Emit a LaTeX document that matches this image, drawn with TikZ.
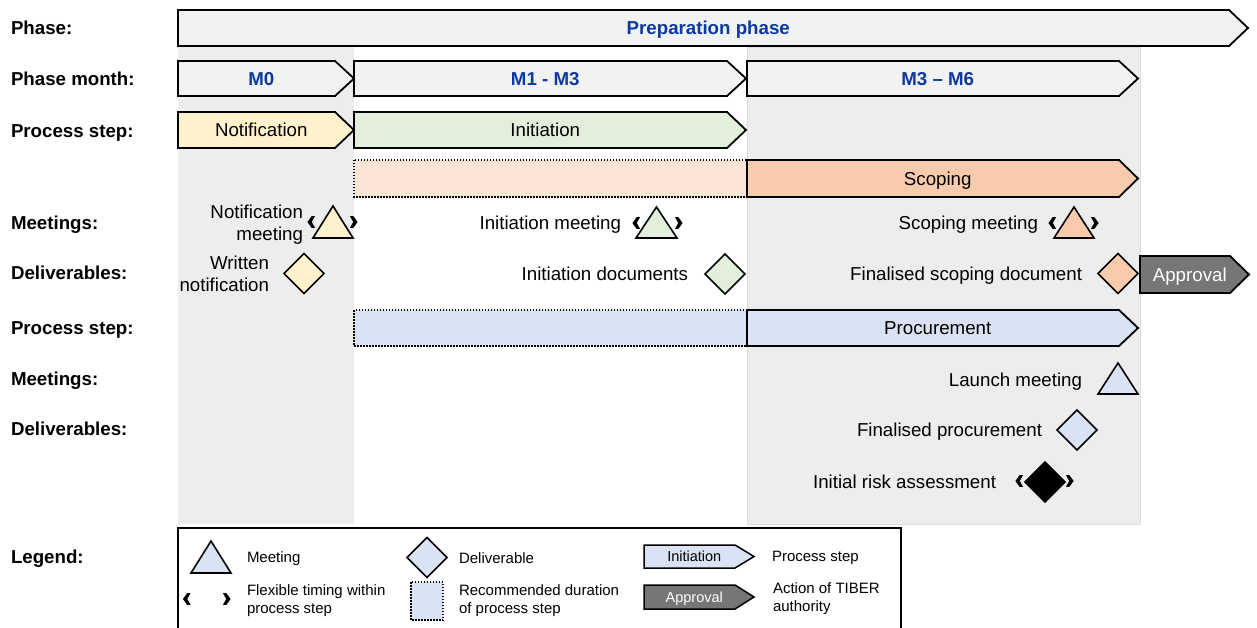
\documentclass[tikz,border=0pt]{standalone}
\usepackage{fontspec}
\setmainfont{Liberation Sans}
\usetikzlibrary{shapes.geometric}
\definecolor{colgray}{HTML}{EDEDED}
\definecolor{coledge}{HTML}{DCDCDC}
\definecolor{barfill}{HTML}{F2F2F2}
\definecolor{yel}{HTML}{FFF2CC}
\definecolor{grn}{HTML}{E2EFDA}
\definecolor{peachlt}{HTML}{FBE5D6}
\definecolor{peach}{HTML}{F8CBAD}
\definecolor{blu}{HTML}{DAE3F3}
\definecolor{apprv}{HTML}{767676}
\definecolor{phasetxt}{HTML}{0B39A0}

\tikzset{
  every node/.style={inner sep=0pt, outer sep=0pt},
  t/.style={font=\fontsize{18.7}{22}\selectfont, text height=13.5pt, text depth=0pt},
  rowlab/.style={t, font=\fontsize{18.7}{22}\selectfont\bfseries, anchor=west},
  phtxt/.style={t, font=\fontsize{18.7}{22}\selectfont\bfseries, text=phasetxt},
  lab/.style={t, anchor=east, align=right},
  apptxt/.style={t, text=white},
  legtxt/.style={font=\fontsize{15}{17.5}\selectfont, text height=10.8pt, text depth=0pt, anchor=west, align=left},
  legarrtxt/.style={font=\fontsize{14.5}{17}\selectfont, text height=10.4pt, text depth=0pt},
  legapptxt/.style={legarrtxt, text=white},
  arrline/.style={draw=black, line width=1.8pt, line join=miter},
  legarrline/.style={draw=black, line width=1.5pt, line join=miter},
  dotbox/.style={draw=black, line width=1.5pt, dash pattern=on 1.5pt off 1.5pt},
  tri/.style={draw=black, line width=1.6pt, line join=miter},
  dia/.style={shape=diamond, draw=black, line width=1.6pt, minimum width=40pt, minimum height=40pt, inner sep=0pt},
  flexmark/.style={fill=black},
}

% #1 path style, #2 name, #3 x left, #4 x tip, #5 y top, #6 y bottom, #7 text style, #8 text
\newcommand{\steparrow}[8][arrline]{%
  \path[#1] (#3,#5) -- ({#4-19},#5) -- (#4,{(#5+#6)/2}) -- ({#4-19},#6) -- (#3,#6) -- cycle;
  \node[#7] (#2) at ({(#3+#4-9.5)/2},{(#5+#6)/2}) {#8};
}
% #1 name, #2 cx, #3 y top, #4 y bottom, #5 half width, #6 fill
\newcommand{\meettri}[6]{%
  \path[tri, fill=#6] ({#2-#5},#4) -- (#2,#3) -- ({#2+#5},#4) -- cycle;
  \coordinate (#1) at (#2,{(#3+#4)/2});
}
% flexible timing marks: #1 left x, #2 right x, #3 y
\newcommand{\flexmarks}[3]{%
  \path[flexmark] ({#1+0.6},{#3-5.8}) -- ({#1-3.6},#3) -- ({#1+0.6},{#3+5.8})
     -- ({#1+4.0},{#3+5.8}) -- ({#1+0.8},#3) -- ({#1+4.0},{#3-5.8}) -- cycle;
  \path[flexmark] ({#2-0.6},{#3-5.8}) -- ({#2+3.6},#3) -- ({#2-0.6},{#3+5.8})
     -- ({#2-4.0},{#3+5.8}) -- ({#2-0.8},#3) -- ({#2-4.0},{#3-5.8}) -- cycle;
}

\begin{document}
\begin{tikzpicture}[x=1pt,y=-1pt]
\useasboundingbox (0,0) rectangle (1257,628);

% grey month columns
\path[fill=colgray] (178,47) rectangle (354,524);
\path[fill=colgray, draw=coledge, line width=0.8pt] (747,47) rectangle (1140,524);

% row labels
\node[rowlab] (l1) at (11,28) {Phase:};
\node[rowlab] (l2) at (11,79) {Phase month:};
\node[rowlab] (l3) at (11,131) {Process step:};
\node[rowlab] (l4) at (11,223) {Meetings:};
\node[rowlab] (l5) at (11,273) {Deliverables:};
\node[rowlab] (l6) at (11,328) {Process step:};
\node[rowlab] (l7) at (11,379) {Meetings:};
\node[rowlab] (l8) at (11,429) {Deliverables:};
\node[rowlab] (l9) at (11,557) {Legend:};

% phase and months
\steparrow[arrline, fill=barfill]{phase}{178}{1248}{10}{46}{phtxt}{Preparation phase}
\steparrow[arrline, fill=barfill]{m0}{178}{354}{61}{96}{phtxt}{M0}
\steparrow[arrline, fill=barfill]{m13}{354}{746}{61}{96}{phtxt}{M1 - M3}
\steparrow[arrline, fill=barfill]{m36}{747}{1138}{61}{96}{phtxt}{M3 – M6}

% process steps
\steparrow[arrline, fill=yel]{notif}{178}{354}{112}{148}{t}{Notification}
\steparrow[arrline, fill=grn]{initi}{354}{746}{112}{148}{t}{Initiation}
\path[dotbox, fill=peachlt] (354,160) rectangle (747,197);
\steparrow[arrline, fill=peach]{scop}{747}{1138}{160}{197}{t}{Scoping}
\path[dotbox, fill=blu] (354,310) rectangle (747,346);
\steparrow[arrline, fill=blu]{proc}{747}{1138}{310}{346}{t}{Procurement}

% meetings
\node[lab] (nmt) at (303,234) {Notification\\meeting};
\meettri{nm}{333}{206}{238}{20}{yel}
\flexmarks{311}{354}{222}
\node[lab] (imt) at (621,223) {Initiation meeting};
\meettri{im}{656.5}{207}{238}{20.5}{grn}
\flexmarks{636}{679}{223}
\node[lab] (smt) at (1038,223) {Scoping meeting};
\meettri{sm}{1074}{207}{238}{20}{peach}
\flexmarks{1052}{1095}{223}

% deliverables
\node[lab] (wnt) at (269,285) {Written\\notification};
\node[dia, fill=yel] (wn) at (304,273.5) {};
\node[lab] (idt) at (688,274) {Initiation documents};
\node[dia, fill=grn] (idoc) at (725,274) {};
\node[lab] (fsdt) at (1082,274) {Finalised scoping document};
\node[dia, fill=peach] (fsd) at (1118,273.5) {};
\steparrow[arrline, fill=apprv]{appr}{1140}{1249}{256}{293}{apptxt}{Approval}

% procurement items
\node[lab] (lmt) at (1082,380) {Launch meeting};
\meettri{lm}{1118}{363}{394}{20}{blu}
\node[lab] (fpt) at (1042,430) {Finalised procurement};
\node[dia, fill=blu] (fp) at (1077,430) {};
\node[lab] (irat) at (996,482) {Initial risk assessment};
\node[dia, fill=black] (ira) at (1045,482) {};
\flexmarks{1019}{1070}{481}

% legend
\path[draw=black, line width=1.3pt] (178,528) rectangle (901,640);
\meettri{legm}{211}{541}{573}{20}{blu}
\node[legtxt] (legmt) at (247,557) {Meeting};
\flexmarks{186.5}{227}{599}
\node[legtxt] (legft) at (247,608) {Flexible timing within\\process step};
\node[dia, fill=blu] (legd) at (427,557.5) {};
\node[legtxt] (legdt) at (459,558) {Deliverable};
\path[dotbox, fill=blu] (411,582) rectangle (443,620);
\node[legtxt] (legrt) at (459,608) {Recommended duration\\of process step};
\steparrow[legarrline, fill=blu]{legi}{644}{754}{545}{568}{legarrtxt}{Initiation}
\node[legtxt] (legpt) at (772,556) {Process step};
\steparrow[legarrline, fill=apprv]{lega}{644}{754}{585}{609}{legapptxt}{Approval}
\node[legtxt] (legat) at (773,606) {Action of TIBER\\authority};
\end{tikzpicture}
\end{document}
